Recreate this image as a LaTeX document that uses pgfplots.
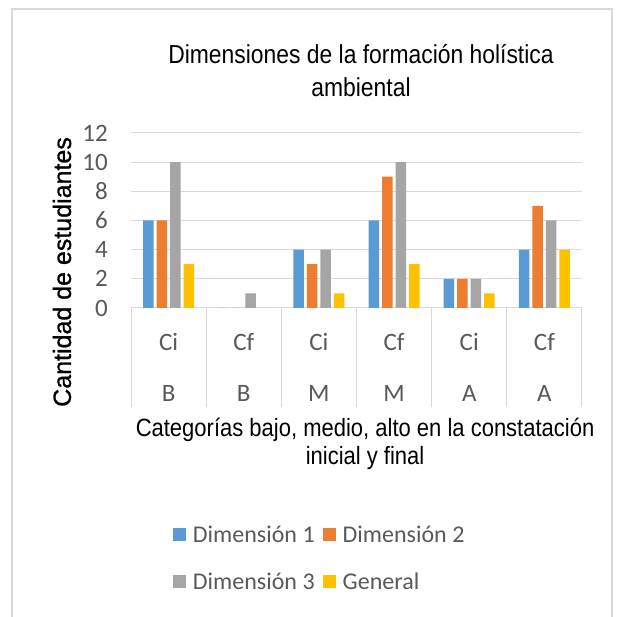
\documentclass[border=0pt]{standalone}
\usepackage{fontspec}
\usepackage{pgfplots}
\pgfplotsset{compat=1.18}
\setmainfont{Carlito}
\newfontfamily\arialf[FakeStretch=0.88]{Liberation Sans}
\newfontfamily\arialv[FakeBold=1]{Liberation Sans}
\definecolor{c1}{HTML}{5B9BD5}
\definecolor{c2}{HTML}{ED7D31}
\definecolor{c3}{HTML}{A5A5A5}
\definecolor{c4}{HTML}{FFC000}
\definecolor{gridgray}{HTML}{D9D9D9}
\definecolor{tickgray}{HTML}{595959}
\definecolor{framegray}{HTML}{D9D9D9}
\pgfplotsset{sqleg/.style={legend image code/.code={\fill[##1] (0bp,-6.5bp) rectangle (13bp,6.5bp);}}}
\begin{document}
\begin{tikzpicture}
\useasboundingbox (0,0) rectangle (620bp,617bp);
\fill[white] (0,0) rectangle (620bp,617bp);
\draw[framegray, line width=2bp] (12bp,-5bp) |- (612bp,608bp) -- (612bp,-5bp);
\begin{axis}[
  at={(131bp,309bp)}, anchor=south west,
  width=451bp, height=175bp, scale only axis,
  ybar=3bp, bar width=10.5bp,
  xmin=-0.5, xmax=5.5, ymin=0, ymax=12,
  ytick={0,2,...,12},
  xtick={0,...,5},
  xticklabels={{Ci\\B},{Cf\\B},{Ci\\M},{Cf\\M},{Ci\\A},{Cf\\A}},
  minor xtick={-0.5,0.5,...,5.5},
  tick align=outside,
  major tick length=0pt,
  minor tick length=99bp,
  minor x tick style={gridgray, line width=1bp},
  xtick pos=left, ytick pos=left,
  axis line style={draw=none},
  ymajorgrids,
  grid style={gridgray, line width=1bp},
  /pgf/number format/assume math mode=true,
  tick label style={text=tickgray},
  yticklabel style={font=\fontsize{25bp}{28bp}\selectfont, inner sep=0pt, anchor=east, xshift=-23bp},
  xticklabel style={font=\fontsize{25bp}{51bp}\selectfont, align=center, inner sep=0pt, anchor=north, yshift=-25bp},
  title={Dimensiones de la formación holística\\ambiental},
  title style={at={(axis description cs:0.51,1.32)}, anchor=center, align=center, font=\arialf\fontsize{26bp}{33bp}\selectfont},
  xlabel={Categorías bajo, medio, alto en la constatación\\inicial y final},
  xlabel style={at={(axis description cs:0.519,-0.774)}, anchor=center, align=center, font=\arialf\fontsize{25bp}{28bp}\selectfont},
  ylabel={Cantidad de estudiantes},
  ylabel style={at={(axis description cs:-0.153,0.206)}, anchor=center, rotate=0, font=\arialv\fontsize{25bp}{28bp}\selectfont},
  legend columns=2,
  legend cell align=left,
  legend style={at={(axis description cs:0.0931,-1.431)}, anchor=west, draw=none, fill=none,
    inner sep=0pt, outer sep=0pt,
    font=\fontsize{24bp}{30bp}\selectfont, text=tickgray,
    nodes={inner sep=0pt},
    row sep=29bp,
    /tikz/every odd column/.append style={column sep=7bp},
    /tikz/every even column/.append style={column sep=8bp}},
]
\addplot[fill=c1, draw=none, sqleg] coordinates {(0,6) (1,0) (2,4) (3,6) (4,2) (5,4)};
\addplot[fill=c2, draw=none, sqleg] coordinates {(0,6) (1,0) (2,3) (3,9) (4,2) (5,7)};
\addplot[fill=c3, draw=none, sqleg] coordinates {(0,10) (1,1) (2,4) (3,10) (4,2) (5,6)};
\addplot[fill=c4, draw=none, sqleg] coordinates {(0,3) (1,0) (2,1) (3,3) (4,1) (5,4)};
\legend{Dimensión 1, Dimensión 2, Dimensión 3, General}
\end{axis}
\end{tikzpicture}
\end{document}
